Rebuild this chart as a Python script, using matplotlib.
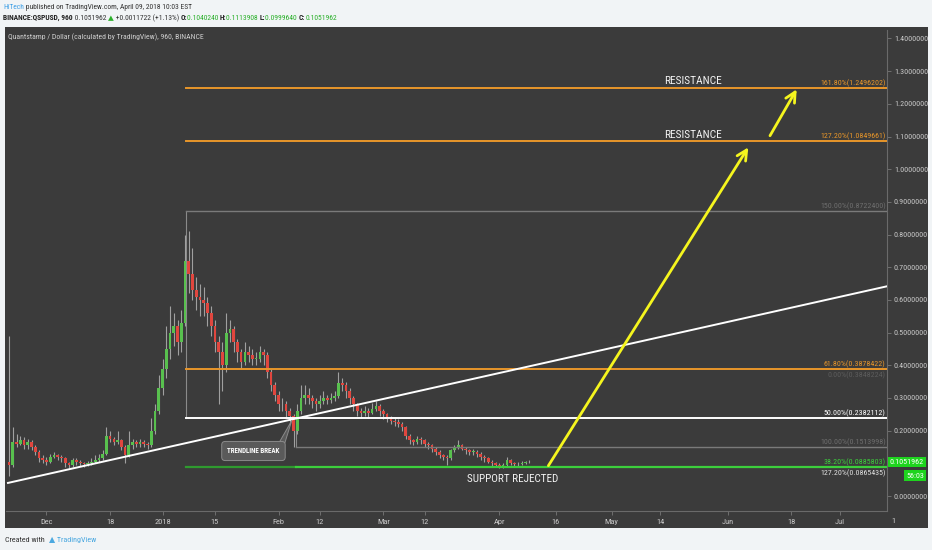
import matplotlib
matplotlib.use("Agg")
import matplotlib.pyplot as plt
import matplotlib.dates as mdates
from matplotlib import font_manager as fm
from matplotlib.patches import Rectangle, Polygon
import pandas as pd

# ---------------- data ----------------
start_date = "2017-11-21"
close = [0.095, 0.165, 0.16, 0.17, 0.155, 0.165, 0.15, 0.135, 0.115, 0.11,
         0.105, 0.12, 0.125, 0.12, 0.115, 0.10, 0.095, 0.11, 0.105, 0.10,
         0.098, 0.10, 0.105, 0.11, 0.115, 0.13, 0.185, 0.175, 0.165, 0.17,
         0.15, 0.125, 0.155, 0.165, 0.16, 0.165, 0.16, 0.155, 0.20, 0.26,
         0.33, 0.39, 0.45, 0.50, 0.52, 0.47, 0.53, 0.72, 0.68, 0.63,
         0.61, 0.60, 0.59, 0.56, 0.52, 0.47, 0.44, 0.40, 0.50, 0.51,
         0.47, 0.44, 0.41, 0.44, 0.43, 0.42, 0.42, 0.44, 0.43, 0.38,
         0.34, 0.31, 0.28, 0.28, 0.26, 0.245, 0.20, 0.26, 0.30, 0.31,
         0.30, 0.29, 0.28, 0.29, 0.30, 0.295, 0.30, 0.305, 0.345, 0.34,
         0.32, 0.30, 0.28, 0.26, 0.255, 0.26, 0.255, 0.265, 0.275, 0.26,
         0.25, 0.235, 0.23, 0.225, 0.22, 0.21, 0.185, 0.17, 0.165, 0.175,
         0.17, 0.16, 0.155, 0.145, 0.135, 0.125, 0.12, 0.115, 0.14, 0.15,
         0.155, 0.145, 0.14, 0.135, 0.135, 0.13, 0.12, 0.115, 0.105, 0.10,
         0.095, 0.09, 0.095, 0.11, 0.10, 0.097, 0.098, 0.10, 0.103, 0.1051962]
high = [0.49, 0.21, 0.19, 0.185, 0.18, 0.175, 0.17, 0.155, 0.14, 0.125,
        0.12, 0.13, 0.135, 0.13, 0.125, 0.12, 0.105, 0.115, 0.115, 0.11,
        0.105, 0.108, 0.115, 0.125, 0.13, 0.14, 0.21, 0.20, 0.18, 0.20,
        0.175, 0.155, 0.20, 0.175, 0.17, 0.175, 0.17, 0.165, 0.24, 0.28,
        0.37, 0.42, 0.52, 0.58, 0.56, 0.54, 0.57, 0.80, 0.81, 0.76,
        0.67, 0.65, 0.64, 0.61, 0.58, 0.54, 0.49, 0.47, 0.56, 0.54,
        0.52, 0.48, 0.45, 0.47, 0.46, 0.45, 0.44, 0.46, 0.45, 0.44,
        0.39, 0.35, 0.32, 0.30, 0.29, 0.27, 0.25, 0.28, 0.34, 0.34,
        0.33, 0.31, 0.30, 0.31, 0.32, 0.31, 0.315, 0.32, 0.38, 0.36,
        0.35, 0.33, 0.305, 0.285, 0.27, 0.275, 0.27, 0.285, 0.29, 0.28,
        0.265, 0.255, 0.245, 0.24, 0.235, 0.225, 0.215, 0.19, 0.175, 0.185,
        0.18, 0.175, 0.165, 0.16, 0.15, 0.14, 0.13, 0.125, 0.145, 0.155,
        0.17, 0.16, 0.15, 0.145, 0.145, 0.14, 0.135, 0.125, 0.12, 0.11,
        0.105, 0.10, 0.10, 0.118, 0.112, 0.104, 0.103, 0.106, 0.108, 0.1113908]
low = [0.06, 0.09, 0.15, 0.155, 0.145, 0.145, 0.14, 0.125, 0.105, 0.10,
       0.095, 0.10, 0.115, 0.11, 0.105, 0.09, 0.085, 0.09, 0.095, 0.092,
       0.09, 0.092, 0.095, 0.10, 0.105, 0.11, 0.125, 0.165, 0.155, 0.16,
       0.14, 0.10, 0.12, 0.145, 0.15, 0.15, 0.15, 0.145, 0.15, 0.19,
       0.25, 0.31, 0.36, 0.42, 0.46, 0.43, 0.44, 0.52, 0.62, 0.60,
       0.57, 0.55, 0.55, 0.52, 0.49, 0.44, 0.28, 0.32, 0.38, 0.47,
       0.44, 0.41, 0.39, 0.40, 0.41, 0.40, 0.40, 0.41, 0.40, 0.36,
       0.32, 0.29, 0.26, 0.26, 0.24, 0.22, 0.15, 0.19, 0.25, 0.28,
       0.28, 0.27, 0.26, 0.27, 0.28, 0.28, 0.285, 0.29, 0.30, 0.32,
       0.30, 0.28, 0.26, 0.245, 0.24, 0.245, 0.24, 0.25, 0.26, 0.245,
       0.235, 0.225, 0.22, 0.215, 0.21, 0.20, 0.175, 0.16, 0.155, 0.16,
       0.16, 0.15, 0.145, 0.135, 0.125, 0.115, 0.11, 0.095, 0.11, 0.135,
       0.145, 0.14, 0.13, 0.125, 0.125, 0.12, 0.11, 0.105, 0.10, 0.092,
       0.088, 0.085, 0.086, 0.09, 0.095, 0.092, 0.093, 0.095, 0.097, 0.099964]
first_open = 0.105

tick_dates = ["2017-12-01", "2017-12-18", "2018-01-01", "2018-01-15", "2018-02-01",
              "2018-02-12", "2018-03-01", "2018-03-12", "2018-04-01", "2018-04-16",
              "2018-05-01", "2018-05-14", "2018-06-01", "2018-06-18", "2018-07-01"]
tick_labels = ["Dec", "18", "2018", "15", "Feb", "12", "Mar", "12", "Apr", "16",
               "May", "14", "Jun", "18", "Jul"]
price_ticks = [0.0, 0.1, 0.2, 0.3, 0.4, 0.5, 0.6, 0.7, 0.8, 0.9, 1.0, 1.1, 1.2, 1.3, 1.4]

fib_anchor_1 = "2018-01-07 07:00"
fib_anchor_2 = "2018-02-05 16:00"
fib_levels = [
    ("161.80%", 1.2496202, "#e8962a"),
    ("127.20%", 1.0849661, "#e8962a"),
    ("150.00%", 0.8722400, "#7a7a7a"),
    ("61.80%", 0.3878422, "#e8962a"),
    ("50.00%", 0.2382112, "#ffffff"),
    ("100.00%", 0.1513998, "#7a7a7a"),
    ("38.20%", 0.0885803, "#3ccf3c"),
]
extra_labels = [("0.00%", 0.3848224, "#5c5c5c"), ("127.20%", 0.0865435, "#e0e0e0")]

trend_dates = ["2017-11-20 17:00", "2018-07-15 05:00"]
trend_prices = [0.040, 0.646]

arrow1 = (("2018-04-14 02:00", 0.0927), ("2018-06-06 12:00", 1.067))
arrow2 = (("2018-06-12 07:00", 1.1025), ("2018-06-19 10:00", 1.2445))

resistance_date = "2018-05-22 17:00"
support_text = ("2018-04-04 14:00", 0.052)
break_box = ("2018-01-25 07:00", 0.1377)
break_pointer = [("2018-02-01 02:00", 0.162), ("2018-02-02 16:00", 0.162), ("2018-02-04 12:00", 0.2304)]

last_price = 0.1051962

# ---------------- fonts ----------------
entries = [(f.name, f.stretch) for f in fm.fontManager.ttflist]
names = {n for n, _ in entries}
if "Liberation Sans Narrow" in names:
    FAM, STRETCH, K = "Liberation Sans Narrow", "normal", 1.0
elif "Roboto Condensed" in names:
    FAM, STRETCH, K = "Roboto Condensed", "normal", 1.0
elif any(n == "DejaVu Sans" and s in ("condensed", "semi-condensed") for n, s in entries):
    FAM, STRETCH, K = "DejaVu Sans", "condensed", 0.9
else:
    FAM, STRETCH, K = "Liberation Sans", "normal", 0.88
plt.rcParams["font.family"] = [FAM, "DejaVu Sans"]
plt.rcParams["font.stretch"] = STRETCH

def fs(v):
    return v * K

# ---------------- style ----------------
W, H = 932, 550
BG = "#f1f4f6"
PANEL = "#3b3b3b"

fig = plt.figure(figsize=(W / 100, H / 100), dpi=100, facecolor=BG)

def fx(px):
    return px / W

def fy(py):
    return 1 - py / H

fig.patches.append(Rectangle((fx(5), fy(528)), fx(928) - fx(5), fy(27) - fy(528),
                             transform=fig.transFigure, facecolor=PANEL, edgecolor="none", zorder=-5))

ax = fig.add_axes([fx(6), fy(511), fx(887) - fx(6), fy(30) - fy(511)])
ax.set_facecolor("none")
ax.set_zorder(2)

dates = pd.date_range(start_date, periods=len(close), freq="D")
xd = mdates.date2num(dates)
opens = [first_open] + close[:-1]

up_col, dn_col, wick_col = "#58c04e", "#e0463e", "#a0a0a0"
ax.vlines(xd, low, high, color=wick_col, lw=0.8, zorder=3)
for x, o, c in zip(xd, opens, close):
    col = up_col if c >= o else dn_col
    ax.bar(x, max(abs(c - o), 0.002), bottom=min(o, c),
           width=0.72, color=col, edgecolor="none", zorder=4)

x0 = mdates.date2num(pd.Timestamp(start_date)) - 0.82
x1 = mdates.date2num(pd.Timestamp(start_date)) + 234.55
ax.set_xlim(x0, x1)
ax.set_ylim(-0.0459, 1.426)

xa1 = mdates.date2num(pd.Timestamp(fib_anchor_1))
xa2 = mdates.date2num(pd.Timestamp(fib_anchor_2))

for lab, val, col in fib_levels:
    xa = xa2 if lab == "100.00%" else xa1
    lw = 1.0 if col == "#7a7a7a" else 1.4
    if lab == "38.20%":
        ax.plot([xa1, xa2], [val, val], color="#2f9a2f", lw=1.6, zorder=5)
        ax.plot([xa2, x1], [val, val], color="#3ccf3c", lw=1.6, zorder=5)
    else:
        ax.plot([xa, x1], [val, val], color=col, lw=lw, zorder=5)
    tcol = "#6e6e6e" if col == "#7a7a7a" else col
    ax.text(0.9985, val + 0.003, f"{lab}({val:.7f})", transform=ax.get_yaxis_transform(),
            ha="right", va="bottom", color=tcol, fontsize=fs(5.7), zorder=7)
for lab, val, col in extra_labels:
    ax.text(0.9985, val - 0.004, f"{lab}({val:.7f})", transform=ax.get_yaxis_transform(),
            ha="right", va="top", color=col, fontsize=fs(5.7), zorder=7)

ax.plot([xa1, xa1], [0.8722400, 0.2382112], color="#8a8a8a", lw=0.8, zorder=2)
ax.plot([xa2, xa2], [0.2382112, 0.1513998], color="#8a8a8a", lw=0.8, zorder=2)

ax.plot(mdates.date2num(pd.to_datetime(trend_dates)), trend_prices, color="white", lw=1.4, zorder=6)

for (d0, p0), (d1, p1) in (arrow1, arrow2):
    ax.annotate("", xy=(mdates.date2num(pd.Timestamp(d1)), p1),
                xytext=(mdates.date2num(pd.Timestamp(d0)), p0),
                arrowprops=dict(arrowstyle="->", color="#f5f51e", lw=2.0, mutation_scale=18,
                                shrinkA=0, shrinkB=0), zorder=8)

xr = mdates.date2num(pd.Timestamp(resistance_date))
for val in (1.2496202, 1.0849661):
    ax.text(xr, val + 0.004, "RESISTANCE", ha="center", va="bottom", color="#f2f2f2",
            fontsize=fs(8.2), zorder=8)
ax.text(mdates.date2num(pd.Timestamp(support_text[0])), support_text[1], "SUPPORT REJECTED",
        ha="center", va="center", color="#f2f2f2", fontsize=fs(8.0), zorder=8)

pts = [(mdates.date2num(pd.Timestamp(d)), p) for d, p in break_pointer]
ax.add_patch(Polygon(pts, closed=True, facecolor="#5a5a5a", edgecolor="#8a8a8a", lw=0.7, zorder=8))
ax.text(mdates.date2num(pd.Timestamp(break_box[0])), break_box[1], "TRENDLINE BREAK",
        ha="center", va="center", color="white", fontsize=fs(5.0), fontweight="bold", zorder=9,
        bbox=dict(boxstyle="round,pad=0.8,rounding_size=0.5", fc="#5a5a5a", ec="#8a8a8a", lw=0.7))

for s in ("top", "left"):
    ax.spines[s].set_visible(False)
for s in ("right", "bottom"):
    ax.spines[s].set_color("#6a6a6a")
    ax.spines[s].set_linewidth(0.8)
ax.yaxis.tick_right()
ax.set_yticks(price_ticks)
# the 0.1 label is covered by the last-price box in the reference
ax.set_yticklabels(["" if abs(v - 0.1) < 1e-9 else f"{v:.7f}" for v in price_ticks])
ax.set_xticks(mdates.date2num(pd.to_datetime(tick_dates)))
ax.set_xticklabels(tick_labels)
ax.tick_params(axis="y", colors="#c9c9c9", labelsize=fs(5.8), length=3, width=0.6, pad=2)
ax.tick_params(axis="x", colors="#c9c9c9", labelsize=fs(6.0), length=3, width=0.6, pad=3)
ax.tick_params(axis="both", which="both", color="#777777")
ax.grid(False)

ax.text(1.003, last_price, f"{last_price:.7f}", transform=ax.get_yaxis_transform(),
        ha="left", va="center", color="white", fontsize=fs(5.8), zorder=10, clip_on=False,
        bbox=dict(boxstyle="square,pad=0.25", fc="#1ed41e", ec="none"))
fig.text(fx(924), fy(475.5), "56:03", ha="right", va="center", color="white", fontsize=fs(5.8),
         bbox=dict(boxstyle="square,pad=0.25", fc="#1ed41e", ec="none"), zorder=10)
fig.text(fx(893), fy(521), "1", ha="center", va="center", color="#c9c9c9", fontsize=fs(6.0))

fig.text(fx(8), fy(37), "Quantstamp / Dollar (calculated by TradingView), 960, BINANCE",
         ha="left", va="center", color="#cfcfcf", fontsize=fs(5.6))

hax = fig.add_axes([0, 0, 1, 1], facecolor="none")
hax.set_axis_off()
hax.set_zorder(3)

def chain(parts, x, y, size):
    s, c, w = parts[0]
    t = hax.text(fx(x), fy(y), s, color=c, fontsize=size, fontweight=w, ha="left", va="baseline",
                 transform=fig.transFigure)
    for s, c, w in parts[1:]:
        t = hax.annotate(s, xy=(1, 0), xycoords=t, xytext=(0, 0), textcoords="offset points",
                         color=c, fontsize=size, fontweight=w, ha="left", va="bottom")
    return t

chain([("HiTech", "#3f9fe6", "normal"),
       (" published on TradingView.com, April 09, 2018 10:03 EST", "#333333", "normal")], 3, 9.0, fs(5.4))
G = "#2bb02b"
chain([("BINANCE:QSPUSD, 960", "#222222", "bold"),
       (" 0.1051962 ", "#333333", "normal"),
       ("▲", G, "normal"),
       (" +0.0011722 (+1.13%) ", "#333333", "normal"),
       ("O:", "#222222", "bold"), ("0.1040240 ", G, "normal"),
       ("H:", "#222222", "bold"), ("0.1113908 ", G, "normal"),
       ("L:", "#222222", "bold"), ("0.0999640 ", G, "normal"),
       ("C:", "#222222", "bold"), ("0.1051962", G, "normal")], 3, 20, fs(5.4))

chain([("Created with  ", "#333333", "normal"),
       ("▲", "#4aa8e0", "normal"),
       (" TradingView", "#4aa8e0", "normal")], 5, 542, fs(5.8))

fig.savefig("out.png", dpi=100, facecolor=BG)
